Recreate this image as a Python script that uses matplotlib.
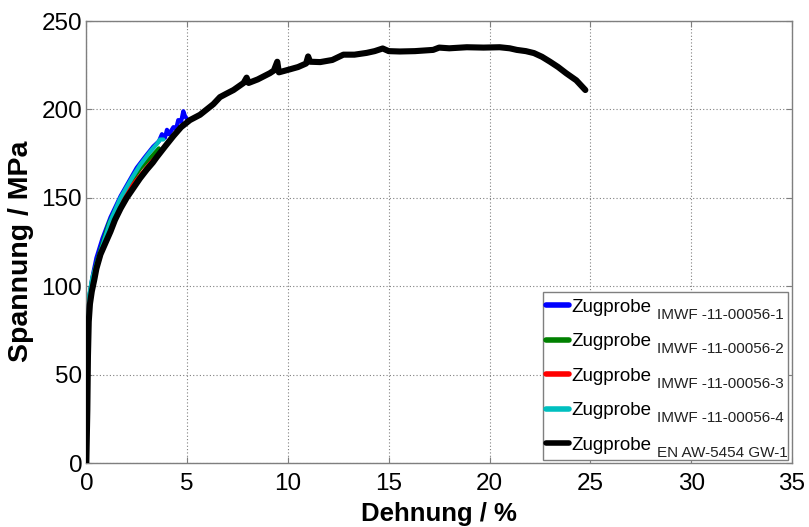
import matplotlib
matplotlib.use("Agg")
import matplotlib.pyplot as plt
from matplotlib import font_manager
from matplotlib.patches import Rectangle
from matplotlib.transforms import IdentityTransform

# ---- data: strain (%) vs. stress (MPa) ----
strain_1 = [0.0, 0.05, 0.08, 0.11, 0.16, 0.3, 0.5, 0.8, 1.2, 1.7, 2.2, 2.5, 2.9, 3.32,
            3.6, 3.75, 3.9, 4.0, 4.1, 4.32, 4.45, 4.56, 4.7, 4.81, 4.9, 4.97]
stress_1 = [0, 30, 60, 85, 95, 105, 116, 127, 139, 151, 161, 167, 173, 179,
            182, 186, 184, 188.5, 186, 190, 189, 194, 193, 199, 196, 195]

strain_2 = [0.0, 0.05, 0.08, 0.11, 0.16, 0.3, 0.55, 1.1, 1.6, 2.2, 2.7, 3.2, 3.6]
stress_2 = [0, 30, 60, 85, 95, 104, 115, 135, 147, 159, 167, 173, 178]

strain_3 = [0.0, 0.04, 0.07, 0.1, 0.15, 0.3, 0.5, 1.1, 1.6, 2.2, 2.7, 3.2, 3.7]
stress_3 = [0, 30, 60, 85, 92, 101, 110, 132, 144, 156, 163, 170, 176]

strain_4 = [0.0, 0.05, 0.08, 0.11, 0.16, 0.3, 0.6, 1.18, 1.67, 2.25, 2.66, 3.16, 3.5,
            3.66, 3.82]
stress_4 = [0, 30, 60, 85, 96, 105, 116, 136.5, 149.5, 161, 168.5, 176, 180.5,
            183, 183]

strain_5 = [0.0, 0.05, 0.08, 0.12, 0.18, 0.27, 0.4, 0.5, 0.7, 0.93, 1.2, 1.42, 1.7,
            2.0, 2.3, 2.66, 3.0, 3.3, 3.49, 3.9, 4.32, 4.7, 5.14, 5.64, 5.97, 6.3,
            6.63, 6.96, 7.3, 7.8, 7.95, 8.05, 8.5, 9.1, 9.3, 9.47, 9.55, 10.0, 10.5,
            10.9, 11.0, 11.1, 11.6, 12.2, 12.75, 13.3, 13.9, 14.3, 14.7, 15.0, 15.55,
            16.3, 17.2, 17.5, 18.0, 18.87, 19.7, 20.5, 21.0, 21.35, 21.8, 22.2, 22.6,
            23.0, 23.4, 23.8, 24.3, 24.75]
stress_5 = [0, 30, 60, 80, 90, 97, 104, 110, 118, 124, 131, 137.5, 144,
            150, 155, 161, 166, 170, 173, 179, 185, 190, 194, 197, 200, 203,
            207, 209, 211, 215, 218, 215, 217, 220.5, 222, 227, 221, 222.4, 224,
            226, 230, 227, 226.8, 228, 231, 231, 232, 233, 234.5, 233, 232.8,
            233, 233.7, 235, 234.6, 235.2, 235, 235.2, 234.6, 233.7, 233, 231.9, 229.8,
            227, 224, 220.5, 216.5, 211]

series_main = ["Zugprobe"] * 5
series_sub = ["IMWF -11-00056-1", "IMWF -11-00056-2", "IMWF -11-00056-3",
              "IMWF -11-00056-4", "EN AW-5454 GW-1"]
series_colors = ["#0000ff", "#008000", "#ff0000", "#00bfbf", "#000000"]
series_widths = [3.0, 3.0, 3.0, 3.0, 4.4]

x_ticks = [0, 5, 10, 15, 20, 25, 30, 35]
y_ticks = [0, 50, 100, 150, 200, 250]

# ---- fonts ----
installed = {f.name for f in font_manager.fontManager.ttflist}
base_font = "Liberation Sans" if "Liberation Sans" in installed else "DejaVu Sans"
plt.rcParams["font.family"] = base_font

fig = plt.figure(figsize=(8.09, 5.27), dpi=100)
ax = fig.add_axes([0.1067, 0.1214, 0.8723, 0.8386])

xs = [strain_1, strain_2, strain_3, strain_4, strain_5]
ys = [stress_1, stress_2, stress_3, stress_4, stress_5]
handles = []
for x, y, c, lw in zip(xs, ys, series_colors, series_widths):
    h, = ax.plot(x, y, color=c, lw=lw, solid_joinstyle="round",
                 solid_capstyle="round", zorder=3)
    handles.append(h)

ax.set_xlim(0, 35)
ax.set_ylim(0, 250)
ax.set_xticks(x_ticks)
ax.set_yticks(y_ticks)
ax.set_xticklabels([str(v) for v in x_ticks], fontsize=17.5)
ax.set_yticklabels([str(v) for v in y_ticks], fontsize=17.5)
ax.tick_params(axis="both", direction="in", length=4, color="#7f7f7f",
               top=True, right=True)
ax.tick_params(axis="x", pad=7)
ax.tick_params(axis="y", pad=3)
for s in ax.spines.values():
    s.set_color("#7f7f7f")
    s.set_linewidth(1.0)
ax.grid(True, color="#808080", linestyle=(0, (1, 2)), linewidth=0.8)
ax.set_axisbelow(True)

ax.set_xlabel("Dehnung / %", fontsize=18.5, fontweight="bold", labelpad=5)
ax.set_ylabel("Spannung / MPa", fontsize=20.5, fontweight="bold")
ax.yaxis.set_label_coords(-0.074, 0.478)

# legend frame and entries
ax.add_patch(Rectangle((0.647, 0.007), 0.347, 0.380, transform=ax.transAxes,
                       facecolor="white", edgecolor="#7f7f7f", lw=1.0, zorder=5))
leg = ax.legend(handles, series_main, loc="upper left",
                bbox_to_anchor=(0.652, 0.372), frameon=False, fontsize=13.5,
                handlelength=1.2, handletextpad=0.12, labelspacing=0.93,
                borderpad=0, borderaxespad=0)
for lh in leg.get_lines():
    lh.set_linewidth(4.0)
leg.set_zorder(6)

fig.canvas.draw()
for t, sub in zip(leg.get_texts(), series_sub):
    bb = t.get_window_extent()
    fig.text(bb.x1 + 6, bb.y0 - 3, sub, transform=IdentityTransform(),
             fontsize=11, color="#222222", va="baseline", ha="left", zorder=7)

fig.savefig("out.png", dpi=100)
